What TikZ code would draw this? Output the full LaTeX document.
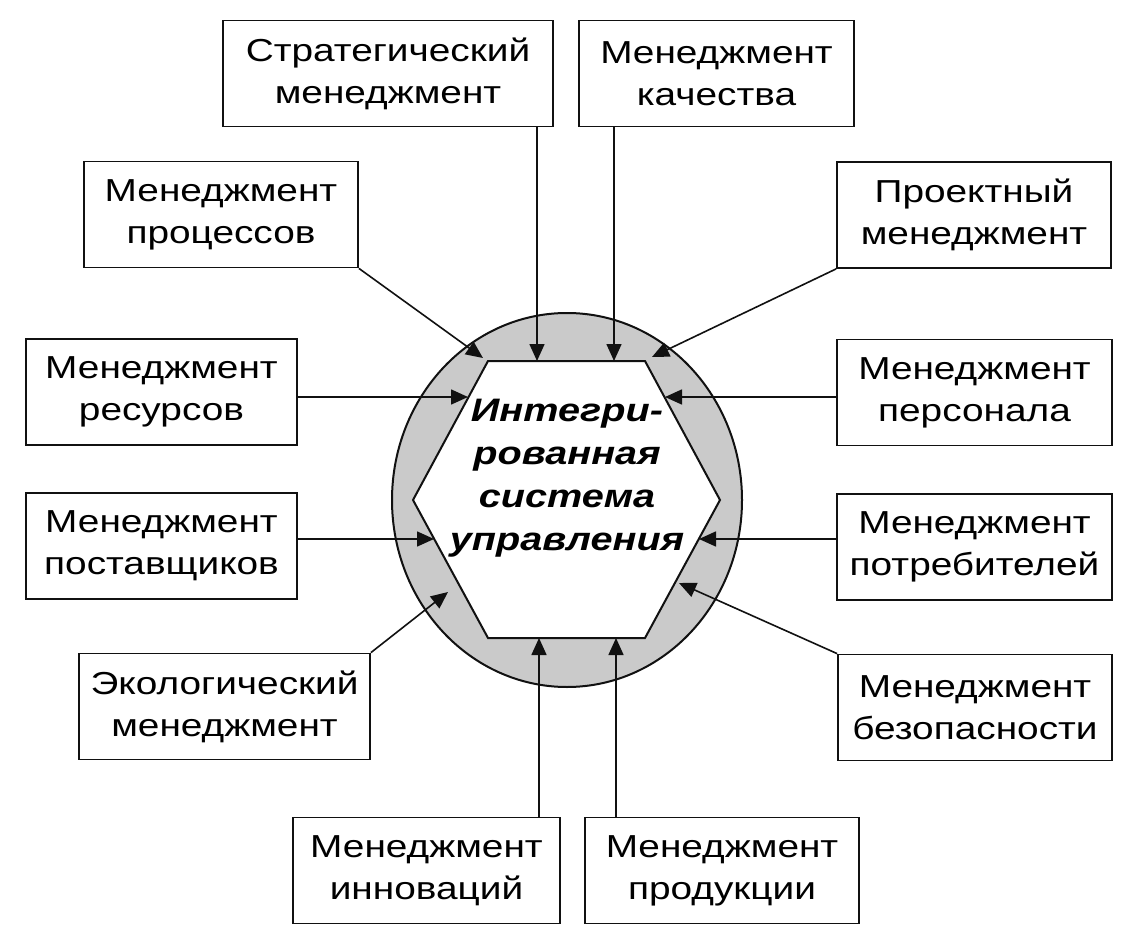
\documentclass[tikz,border=0pt]{standalone}
\usepackage{fontspec}
\setmainfont{Liberation Sans}[FakeStretch=1.22]
\usepackage{xcolor}
\definecolor{ink}{HTML}{111111}
\definecolor{ringfill}{HTML}{CACACA}
\usepackage{tikz}
\usetikzlibrary{arrows.meta}

\begin{document}
\begin{tikzpicture}[x=1pt,y=-1pt,
  box/.style={draw=ink,fill=white,line width=1.8pt,inner sep=0pt,
    minimum height=106pt,align=center,font=\fontsize{31.8}{42}\selectfont},
  hub/.style={align=center,inner sep=0pt,font=\fontsize{32.5}{43}\selectfont\bfseries\itshape},
  arr/.style={-{Triangle[length=17pt,width=15pt]},line width=1.6pt,color=ink}]
\useasboundingbox[fill=white] (0,0) rectangle (1140,941);
% ring and hexagon
\filldraw[fill=ringfill,draw=ink,line width=2pt] (567,500) ellipse [x radius=175,y radius=187];
\filldraw[fill=white,draw=ink,line width=2pt] (488,361) -- (645,361) -- (720,500)
  -- (645,638) -- (488,638) -- (413,500) -- cycle;
\node[hub] (core) at (567,478) {Интегри-\\рованная\\система\\управления};
% arrow tips on the hexagon
\coordinate (tStrat) at (537,361);
\coordinate (tQual) at (614,361);
\coordinate (tProc) at (483,358);
\coordinate (tProj) at (652,357);
\coordinate (tRes) at (468,397);
\coordinate (tPers) at (665,397);
\coordinate (tSupp) at (434,539);
\coordinate (tCust) at (699,539);
\coordinate (tEco) at (448,592);
\coordinate (tSafe) at (679,583);
\coordinate (tInnov) at (539,638);
\coordinate (tProd) at (616,638);
% boxes
\node[box,minimum width=330pt] (strat) at (388,73.5) {Стратегический\\менеджмент};
\node[box,minimum width=275pt] (qual) at (716.5,73.5) {Менеджмент\\качества};
\node[box,minimum width=274pt] (proc) at (221,214.5) {Менеджмент\\процессов};
\node[box,minimum width=274pt] (proj) at (974,215) {Проектный\\менеджмент};
\node[box,minimum width=271pt] (res) at (161.5,392) {Менеджмент\\ресурсов};
\node[box,minimum width=275pt] (pers) at (974.5,392.5) {Менеджмент\\персонала};
\node[box,minimum width=271pt] (supp) at (161.5,546) {Менеджмент\\поставщиков};
\node[box,minimum width=275pt] (cust) at (974.5,547) {Менеджмент\\потребителей};
\node[box,minimum width=291pt] (eco) at (224.5,706.5) {Экологический\\менеджмент};
\node[box,minimum width=274pt] (safe) at (975,707.5) {Менеджмент\\безопасности};
\node[box,minimum width=267pt] (innov) at (426.5,870.5) {Менеджмент\\инноваций};
\node[box,minimum width=274pt] (prod) at (722,870.5) {Менеджмент\\продукции};
% connectors
\draw[arr] (tStrat |- strat.south) -- (tStrat);
\draw[arr] (tQual |- qual.south) -- (tQual);
\draw[arr] (proc.south east) -- (tProc);
\draw[arr] (proj.south west) -- (tProj);
\draw[arr] (res.east |- tRes) -- (tRes);
\draw[arr] (pers.west |- tPers) -- (tPers);
\draw[arr] (supp.east |- tSupp) -- (tSupp);
\draw[arr] (cust.west |- tCust) -- (tCust);
\draw[arr] (eco.north east) -- (tEco);
\draw[arr] (safe.north west) -- (tSafe);
\draw[arr] (tInnov |- innov.north) -- (tInnov);
\draw[arr] (tProd |- prod.north) -- (tProd);
\end{tikzpicture}
\end{document}
